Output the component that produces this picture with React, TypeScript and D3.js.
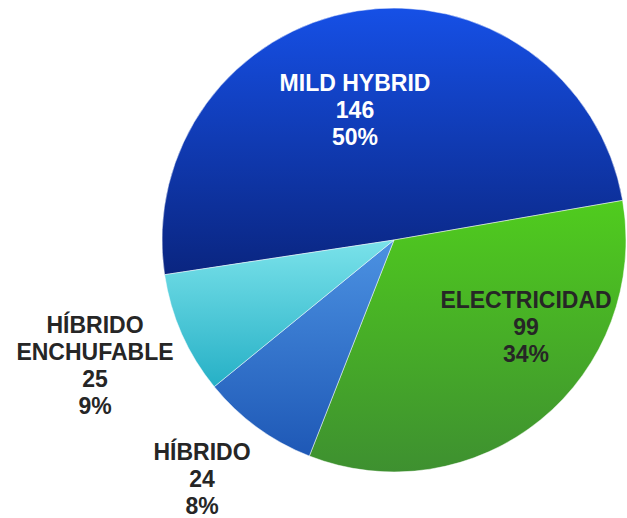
import React from "react";
import * as d3 from "d3";

const categories = ["MILD HYBRID", "ELECTRICIDAD", "HÍBRIDO", "HÍBRIDO ENCHUFABLE"];
const values = [146, 99, 24, 25];
const percentLabels = ["50%", "34%", "8%", "9%"];
const labelLines = [["MILD HYBRID"], ["ELECTRICIDAD"], ["HÍBRIDO"], ["HÍBRIDO", "ENCHUFABLE"]];

const W = 627;
const H = 518;
const cx = 394;
const cy = 240;
const R = 232;
const startDeg = 261.4;

const gradients = [
  ["#1650e6", "#0a2580"],
  ["#50cc1e", "#3e9030"],
  ["#4c92e2", "#1e58b6"],
  ["#7ae2ea", "#26b0c6"],
];
const textColors = ["#ffffff", "#262626", "#262626", "#262626"];
// label anchor (x, first baseline y)
const labelAnchors = [
  [355, 91],
  [526, 308],
  [202, 460],
  [95, 333],
];
const lineGap = 27;

export default function App() {
  const pie = d3
    .pie<number>()
    .sort(null)
    .startAngle((startDeg * Math.PI) / 180)
    .endAngle(((startDeg + 360) * Math.PI) / 180)
    .value((d) => d);
  const arcs = pie(values);
  const arcGen = d3.arc<d3.PieArcDatum<number>>().innerRadius(0).outerRadius(R);

  const bbox = (a: d3.PieArcDatum<number>) => {
    const ys: number[] = [0];
    const n = 90;
    for (let i = 0; i <= n; i++) {
      const t = a.startAngle + ((a.endAngle - a.startAngle) * i) / n;
      ys.push(-Math.cos(t) * R);
    }
    return [d3.min(ys)!, d3.max(ys)!];
  };

  return (
    <svg width={W} height={H} style={{ position: "absolute", left: 0, top: 0 }}>
      <defs>
        {arcs.map((a, i) => {
          const [y0, y1] = bbox(a);
          return (
            <linearGradient
              key={i}
              id={`g${i}`}
              gradientUnits="userSpaceOnUse"
              x1={0}
              x2={0}
              y1={y0}
              y2={y1}
            >
              <stop offset="0%" stopColor={gradients[i][0]} />
              <stop offset="100%" stopColor={gradients[i][1]} />
            </linearGradient>
          );
        })}
      </defs>
      <g transform={`translate(${cx},${cy})`}>
        {arcs.map((a, i) => (
          <path
            key={i}
            d={arcGen(a)!}
            fill={`url(#g${i})`}
            stroke="#ffffff"
            strokeOpacity={0.6}
            strokeWidth={0.8}
          />
        ))}
      </g>
      <g
        fontFamily="'Liberation Sans', Arial, sans-serif"
        fontWeight="bold"
        fontSize={23}
        textAnchor="middle"
      >
        {arcs.map((a, i) => {
          const lines = [...labelLines[i], String(values[i]), percentLabels[i]];
          const [x, y] = labelAnchors[i];
          return (
            <text key={i} x={x} y={y} fill={textColors[i]}>
              {lines.map((l, j) => (
                <tspan key={j} x={x} y={y + j * lineGap}>
                  {l}
                </tspan>
              ))}
            </text>
          );
        })}
      </g>
    </svg>
  );
}
